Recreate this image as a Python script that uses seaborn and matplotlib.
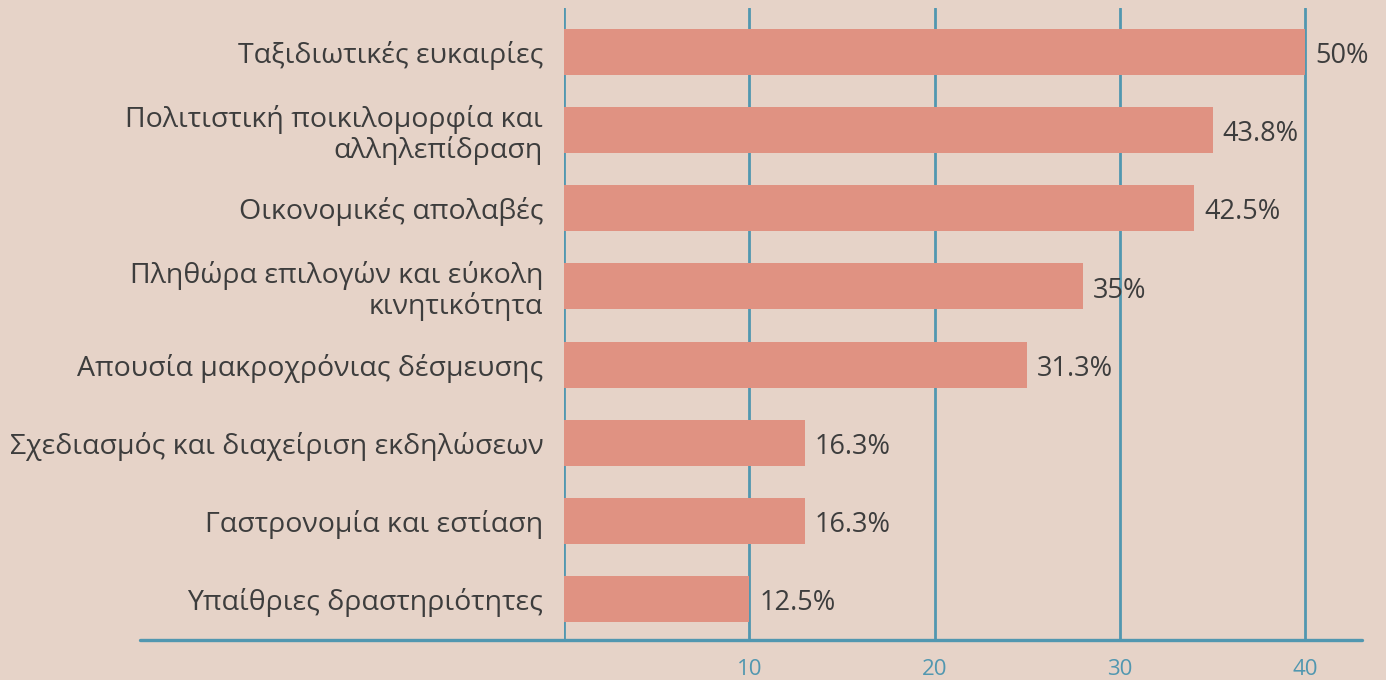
import pandas as pd
import matplotlib.pyplot as plt
import seaborn as sns

# === Data ===
categories = [
    "Ταξιδιωτικές ευκαιρίες",
    "Πολιτιστική ποικιλομορφία και\nαλληλεπίδραση",
    "Οικονομικές απολαβές",
    "Πληθώρα επιλογών και εύκολη\nκινητικότητα",
    "Απουσία μακροχρόνιας δέσμευσης",
    "Σχεδιασμός και διαχείριση εκδηλώσεων",
    "Γαστρονομία και εστίαση",
    "Υπαίθριες δραστηριότητες",
]
counts = [40, 35, 34, 28, 25, 13, 13, 10]
pct_labels = ["50%", "43.8%", "42.5%", "35%", "31.3%", "16.3%", "16.3%", "12.5%"]
xticks = [10, 20, 30, 40]

df = pd.DataFrame({"category": categories, "count": counts, "label": pct_labels})

# === Style ===
bg = "#e6d3c8"
bar_color = "#e09282"
axis_blue = "#5197b0"
text_dark = "#3d3d3d"

sns.set_style("white")
plt.rcParams["font.family"] = ["Open Sans", "DejaVu Sans"]

fig = plt.figure(figsize=(13.86, 6.8), dpi=100, facecolor=bg)
ax = fig.add_axes([564 / 1386, 1 - 640 / 680, (1362 - 564) / 1386, (640 - 8) / 680])
ax.set_facecolor(bg)

sns.barplot(data=df, x="count", y="category", orient="h", color=bar_color,
            saturation=1, width=0.59, linewidth=0, ax=ax, zorder=3)

ax.set_xlim(0, 43.05)
ax.set_ylim(7.525, -0.563)

# vertical gridlines incl. zero line
for v in [0] + xticks:
    ax.axvline(v, color=axis_blue, lw=2.0, zorder=2)
ax.set_xticks(xticks)
ax.tick_params(axis="x", length=0, pad=14, labelsize=16, labelcolor=axis_blue)
ax.tick_params(axis="y", length=0, pad=15, labelsize=20.5, labelcolor=text_dark)
for t in ax.get_yticklabels():
    t.set_linespacing(1.1)

for s in ax.spines.values():
    s.set_visible(False)

# bottom axis line running out to the left under the labels
ax.plot([-22.9, 43.05], [7.525, 7.525], color=axis_blue, lw=2.4,
        clip_on=False, zorder=4)

# percentage labels
for i, (c, lab) in enumerate(zip(counts, pct_labels)):
    ax.annotate(lab, (c, i), xytext=(7, -3), textcoords="offset points",
                va="center", ha="left", fontsize=19.5, color=text_dark, zorder=5)

ax.set_xlabel("")
ax.set_ylabel("")

fig.savefig("out.png", dpi=100, facecolor=bg)
